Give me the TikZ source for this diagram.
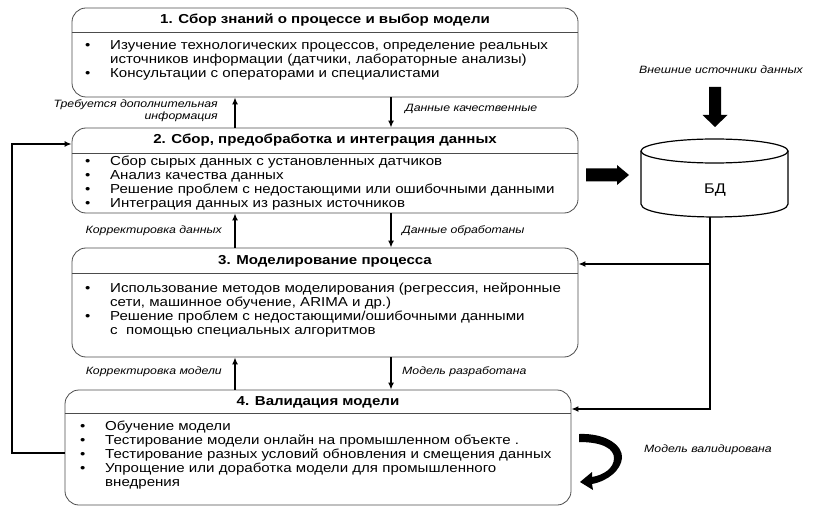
\documentclass[tikz,border=0pt]{standalone}
\usepackage{fontspec}
\setmainfont{Liberation Sans}[FakeStretch=1.16]
\usetikzlibrary{arrows.meta,calc}
\begin{document}
\begin{tikzpicture}[x=1pt,y=-1pt,
  box/.style={draw=black!70,line width=0.8pt,rounded corners=14pt,minimum width=506pt,inner sep=0pt},
  hdr/.style={font=\bfseries\fontsize{13}{15}\selectfont,inner sep=0pt},
  body/.style={anchor=north west,inner sep=0pt,font=\fontsize{13}{13.8}\selectfont},
  lbl/.style={font=\itshape\fontsize{10.6}{12}\selectfont,inner sep=0pt},
  conn/.style={line width=1.8pt,-{Latex[length=7pt,width=6pt]}},
  divline/.style={draw=black!70,line width=0.8pt},
  fat/.style={fill=black,draw=none},
]
\useasboundingbox (0,0) rectangle (813,521);

% boxes
\node[box,minimum height=89pt] (b1) at (325,52.5) {};
\node[box,minimum height=85pt] (b2) at (325,170.5) {};
\node[box,minimum height=109pt] (b3) at (325,302.5) {};
\node[box,minimum height=115pt] (b4) at (318,447.5) {};

\coordinate (d1) at (0,32);
\coordinate (d2) at (0,153);
\coordinate (d3) at (0,273);
\coordinate (d4) at (0,413);
\draw[divline] (b1.west |- d1) -- (b1.east |- d1);
\draw[divline] (b2.west |- d2) -- (b2.east |- d2);
\draw[divline] (b3.west |- d3) -- (b3.east |- d3);
\draw[divline] (b4.west |- d4) -- (b4.east |- d4);

% headers
\node[hdr] (h1) at (325,20) {1. Сбор знаний о процессе и выбор модели};
\node[hdr] (h2) at (325,140.5) {2. Сбор, предобработка и интеграция данных};
\node[hdr] (h3) at (325,261) {3. Моделирование процесса};
\node[hdr] (h4) at (318,402.5) {4. Валидация модели};

% bodies
\node[body] (t1) at (85,40) {\begin{tabular}{@{}p{25pt}@{}l@{}}
•& Изучение технологических процессов, определение реальных\\
 & источников информации (датчики, лабораторные анализы)\\
•& Консультации с операторами и специалистами
\end{tabular}};
\node[body] (t2) at (85,156) {\begin{tabular}{@{}p{25pt}@{}l@{}}
•& Сбор сырых данных с установленных датчиков\\
•& Анализ качества данных\\
•& Решение проблем с недостающими или ошибочными данными\\
•& Интеграция данных из разных источников
\end{tabular}};
\node[body] (t3) at (85,283) {\begin{tabular}{@{}p{25pt}@{}l@{}}
•& Использование методов моделирования (регрессия, нейронные\\
 & сети, машинное обучение, ARIMA и др.)\\
•& Решение проблем с недостающими/ошибочными данными\\
 & с\ \ помощью специальных алгоритмов
\end{tabular}};
\node[body] (t4) at (80,421) {\begin{tabular}{@{}p{25pt}@{}l@{}}
•& Обучение модели\\
•& Тестирование модели онлайн на промышленном объекте .\\
•& Тестирование разных условий обновления и смещения данных\\
•& Упрощение или доработка модели для промышленного\\
 & внедрения
\end{tabular}};

% vertical connectors
\coordinate (xu) at (235,0);
\coordinate (xd) at (391,0);
\draw[conn] (b2.north -| xu) -- (b1.south -| xu);
\draw[conn] (b1.south -| xd) -- (b2.north -| xd);
\draw[conn] (b3.north -| xu) -- (b2.south -| xu);
\draw[conn] (b2.south -| xd) -- (b3.north -| xd);
\draw[conn] (b4.north -| xu) -- (b3.south -| xu);
\draw[conn] (b3.south -| xd) -- (b4.north -| xd);

% labels
\node[lbl,align=right,anchor=east] (l1) at (218,111) {Требуется дополнительная\\информация};
\node[lbl,anchor=west] (l2) at (405,108.5) {Данные качественные};
\node[lbl,anchor=east] (l3) at (222,230.5) {Корректировка данных};
\node[lbl,anchor=west] (l4) at (402,230.5) {Данные обработаны};
\node[lbl,anchor=east] (l5) at (222,372) {Корректировка модели};
\node[lbl,anchor=west] (l6) at (402,372) {Модель разработана};
\node[lbl] (l7) at (721,70) {Внешние источники данных};
\node[lbl] (l8) at (708,450) {Модель валидирована};

% left feedback loop
\coordinate (lp1) at (12,453);
\coordinate (lp2) at (12,144);
\draw[conn] (b4.west |- lp1) -- (lp1) -- (lp2) -- (b2.west |- lp2);

% database
\draw[line width=1.2pt,fill=white] (641,151) -- (641,204) .. controls (641,221.3) and (788,221.3) .. (788,204) -- (788,151);
\draw[line width=1.2pt] (714.5,151) ellipse [x radius=73.5pt, y radius=12pt];
\node[font=\fontsize{14}{16}\selectfont,inner sep=0pt] (db) at (715,190) {БД};
\coordinate (dbb) at (710,217);
\coordinate (c3) at (710,264);
\coordinate (c4) at (710,409);
\draw[conn] (dbb) -- (c4) -- (b4.east |- c4);
\draw[conn] (c3) -- (b3.east |- c3);

% fat arrows
\fill[fat] (586,168.5) -- (617,168.5) -- (617,165) -- (629,175) -- (617,185) -- (617,181.5) -- (586,181.5) -- cycle;
\fill[fat] (709,87) -- (721,87) -- (721,115) -- (727.5,115) -- (715,127) -- (702.5,115) -- (709,115) -- cycle;

% curved arrow
\fill[fat] (579,434) .. controls (607,433) and (623,446) .. (622,458)
  .. controls (621,470) and (608,481) .. (592,484) -- (593,490) -- (580,482) -- (592,472) -- (592,477)
  .. controls (604,475) and (614,468) .. (614,458)
  .. controls (614,449) and (603,442) .. (579,442) -- cycle;
\end{tikzpicture}
\end{document}
